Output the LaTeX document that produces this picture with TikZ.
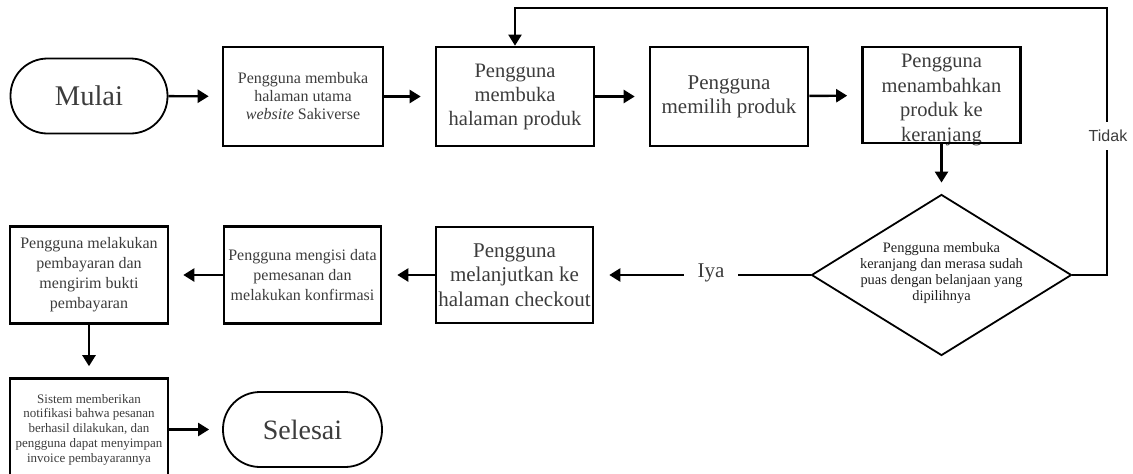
\documentclass[tikz,border=0pt]{standalone}
\usepackage{fontspec}
\setmainfont{Liberation Serif}
\newfontfamily\labelsans{Liberation Sans}
\usetikzlibrary{arrows.meta,shapes.geometric}
\definecolor{ink}{HTML}{3C3C3C}
\definecolor{darkink}{HTML}{1E1E1E}

\begin{document}
\begin{tikzpicture}[x=1pt,y=-1pt,
  procbox/.style={draw=black, line width=2.6pt, minimum width=158pt,
    minimum height=97pt, inner sep=1pt, align=center, text=ink},
  terminal/.style={draw=black, line width=1.8pt, rounded corners=37pt,
    minimum width=157pt, minimum height=75pt, text=ink,
    font=\fontsize{28.5}{30}\selectfont},
  decision/.style={draw=black, line width=1.8pt, diamond, inner sep=0pt,
    minimum width=260pt, minimum height=161pt},
  flow/.style={line width=2.4pt, -{Triangle[length=11pt,width=13pt]}},
  loopline/.style={line width=2pt, -{Triangle[length=11pt,width=13pt]}},
  branch/.style={fill=white, text=ink, inner sep=0pt}
]
\useasboundingbox (0,0) rectangle (1133,474);

% --- top row -------------------------------------------------------------
\node[terminal] (start) at (89,96) {Mulai};

\node[procbox, minimum width=160pt, minimum height=99pt,
      font=\fontsize{16}{18}\selectfont] (b1) at (303,96.5)
  {Pengguna membuka\\halaman utama\\\textit{website} Sakiverse};

\node[procbox, minimum height=99pt, font=\fontsize{20.5}{24}\selectfont]
  (b2) at (515,96.5) {Pengguna\\membuka\\halaman produk};

\node[procbox, minimum height=99pt, font=\fontsize{21}{24}\selectfont]
  (b3) at (729,96.5) {Pengguna\\memilih produk};

% the last line runs onto the lower border of its box
\node[align=center, text=ink, inner sep=0pt,
      font=\fontsize{20.5}{24.5}\selectfont] (b4text) at (941.5,100)
  {Pengguna\\menambahkan\\produk ke\\keranjang};
\node[draw=black, line width=2.6pt, minimum width=158pt, minimum height=96pt,
      inner sep=0pt] (b4) at (941.5,95) {};

% --- decision ------------------------------------------------------------
\node[decision] (dia) at (941.5,275) {};
\node[align=center, text=darkink, inner sep=0pt,
      font=\fontsize{14.4}{16}\selectfont] (diatext) at (941.5,273)
  {Pengguna membuka\\keranjang dan merasa sudah\\puas dengan belanjaan yang\\dipilihnya};

% --- middle row ----------------------------------------------------------
\node[procbox, minimum width=157pt, minimum height=96pt,
      font=\fontsize{21}{24.5}\selectfont] (b5) at (514.5,275)
  {Pengguna\\melanjutkan ke\\halaman checkout};

\node[procbox, minimum width=157pt, font=\fontsize{16}{20}\selectfont]
  (b6) at (302.5,275)
  {Pengguna mengisi data\\pemesanan dan\\melakukan konfirmasi};

\node[procbox, font=\fontsize{16}{20}\selectfont] (b7) at (89,275)
  {Pengguna melakukan\\pembayaran dan\\mengirim bukti\\pembayaran};

% --- bottom row ----------------------------------------------------------
\node[procbox, minimum height=102pt, font=\fontsize{13}{14.7}\selectfont]
  (b8) at (89,429.5)
  {Sistem memberikan\\notifikasi bahwa pesanan\\berhasil dilakukan, dan\\pengguna dapat menyimpan\\invoice pembayarannya};

\node[terminal, minimum width=159pt, font=\fontsize{28}{30}\selectfont]
  (end) at (302.5,429.5) {Selesai};

% --- connectors ----------------------------------------------------------
\draw[flow, shorten >=13pt] (start) -- (b1);
\draw[flow, shorten >=14pt] (b1) -- (b2);
\draw[flow, shorten >=14pt] (b2) -- (b3);
\draw[flow, shorten >=14pt] (b3) -- (b4);
\draw[flow, shorten >=11pt] (b4) -- (dia);

\coordinate (loopTop) at (1107,8);
\draw[loopline] (dia.east) -| (loopTop) -| (b2.north);
\node[branch, inner ysep=8pt, inner xsep=3pt,
      font=\labelsans\fontsize{16}{18}\selectfont] (tidak) at (1108,136) {Tidak};

\draw[flow, shorten >=15pt] (dia.west) -- (b5.east);
\node[branch, inner xsep=14pt, inner ysep=4pt,
      font=\fontsize{21}{24}\selectfont] (iya) at (711,273) {Iya};

\draw[flow, shorten >=15pt] (b5) -- (b6);
\draw[flow, shorten >=14pt] (b6) -- (b7);
\draw[flow, shorten >=11pt] (b7) -- (b8);
\draw[flow, shorten >=13pt] (b8) -- (end);
\end{tikzpicture}
\end{document}
